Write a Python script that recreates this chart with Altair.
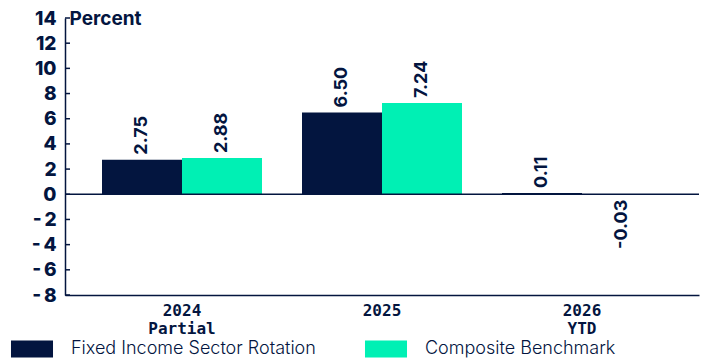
import altair as alt
import pandas as pd

NAVY = "#03153F"
GREEN = "#00F0B4"

categories = ["2024|Partial", "2025", "2026|YTD"]
series = ["Fixed Income Sector Rotation", "Composite Benchmark"]
rotation_values = [2.75, 6.50, 0.11]
benchmark_values = [2.88, 7.24, -0.03]
y_ticks = [-8, -6, -4, -2, 0, 2, 4, 6, 8, 10, 12, 14]

rows = []
for cat, a, b in zip(categories, rotation_values, benchmark_values):
    rows.append({"period": cat, "series": series[0], "value": a})
    rows.append({"period": cat, "series": series[1], "value": b})
df = pd.DataFrame(rows)

SANS = "Inter, Arial, sans-serif"
MONO = "DejaVu Sans Mono"

x_enc = alt.X(
    "period:N",
    sort=categories,
    scale=alt.Scale(paddingInner=0.2, paddingOuter=0.185),
    axis=alt.Axis(
        title=None,
        labelAngle=0,
        ticks=False,
        domainColor=NAVY,
        domainWidth=1.5,
        labelFont=MONO,
        labelFontWeight="bold",
        labelFontSize=16,
        labelColor=NAVY,
        labelPadding=7,
        labelLineHeight=18,
        labelExpr="split(datum.label, '|')",
    ),
)
y_scale = alt.Scale(domain=[-8, 14], nice=False, zero=False)
y_enc = alt.Y(
    "value:Q",
    scale=y_scale,
    axis=alt.Axis(
        title="Percent",
        titleAngle=0,
        titleAlign="left",
        titleBaseline="middle",
        titleX=4,
        titleY=0,
        titleFont=SANS,
        titleFontSize=19,
        titleFontWeight="bold",
        titleColor=NAVY,
        values=y_ticks,
        tickCount=len(y_ticks),
        labelOverlap=False,
        ticks=False,
        grid=False,
        domainColor=NAVY,
        domainWidth=1.5,
        labelFont=SANS,
        labelFontSize=19,
        labelFontWeight=800,
        labelColor=NAVY,
        labelPadding=9,
        labelExpr="datum.value < 0 ? '-\u2009' + abs(datum.value) : datum.value",
    ),
)

color_enc = alt.Color(
    "series:N",
    sort=series,
    scale=alt.Scale(domain=series, range=[NAVY, GREEN]),
    legend=alt.Legend(
        title=None,
        orient="none",
        legendX=-50,
        legendY=314,
        direction="horizontal",
        symbolType="M-1.25,-0.5H1.25V0.5H-1.25Z",
        symbolSize=1130,
        symbolStrokeWidth=0,
        labelFont=SANS,
        labelFontSize=18,
        labelFontWeight=300,
        labelColor=NAVY,
        labelOffset=22,
        columnPadding=48,
        labelLimit=400,
    ),
)

base = alt.Chart(df).transform_calculate(
    label="replace(format(datum.value, '.2f'), '\u2212', '-')"
)

bars = base.mark_bar().encode(
    x=x_enc,
    xOffset=alt.XOffset("series:N", sort=series),
    y=y_enc,
    color=color_enc,
)

label_common = dict(angle=270, baseline="middle", font=SANS, fontSize=18,
                    fontWeight="bold", color=NAVY)

y_plain = alt.Y("value:Q", scale=y_scale)
x_plain = alt.X("period:N", sort=categories)

labels_pos = base.transform_filter("datum.value >= 0").mark_text(
    align="left", dx=5, **label_common
).encode(
    x=x_plain,
    xOffset=alt.XOffset("series:N", sort=series),
    y=y_plain,
    text="label:N",
)

labels_neg = base.transform_filter("datum.value < 0").mark_text(
    align="right", dx=-5, **label_common
).encode(
    x=x_plain,
    xOffset=alt.XOffset("series:N", sort=series),
    y=y_plain,
    text="label:N",
)

zero_line = base.transform_filter("datum.value == 2.75").mark_rule(
    color=NAVY, strokeWidth=1.5
).encode(y=alt.datum(0))

# short inward-pointing ticks along the y axis
tick_marks = alt.Chart(pd.DataFrame({"value": y_ticks})).mark_rule(
    color=NAVY, strokeWidth=1.5
).encode(
    y=alt.Y("value:Q", scale=y_scale),
    x=alt.value(0),
    x2=alt.value(5),
)

chart = (
    alt.layer(bars, zero_line, tick_marks, labels_pos, labels_neg)
    .resolve_scale(x="shared")
    .properties(
        width=634,
        height=277,
        autosize=alt.AutoSizeParams(type="none"),
        padding={"left": 65, "top": 18, "right": 4, "bottom": 65},
        background="white",
    )
    .configure_view(stroke=None)
    .configure_axisY(labelOverlap=False)
)

chart.save("out.html", embed_options={"renderer": "svg", "actions": False})
